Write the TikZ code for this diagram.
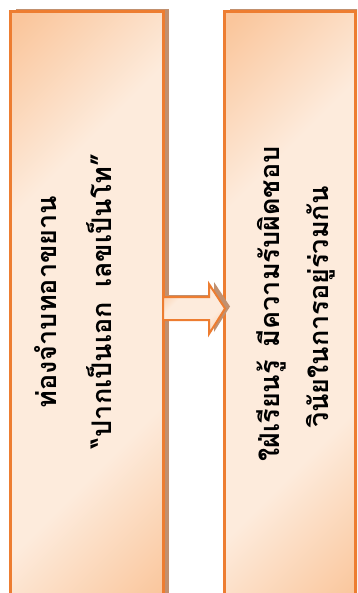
\documentclass[tikz,border=0pt]{standalone}
\usepackage{fontspec}
\newfontfamily\thaifont[Script=Thai]{Loma}
\usetikzlibrary{calc,shadows}
\definecolor{boxorange}{RGB}{237,125,49}
\definecolor{peachdk}{RGB}{250,198,156}
\definecolor{peachlt}{RGB}{253,235,220}
\definecolor{shadowbrown}{RGB}{193,144,111}
\pgfdeclareverticalshading{boxgrad}{100bp}{color(0bp)=(peachdk); color(16bp)=(peachdk); color(34bp)=(peachlt); color(66bp)=(peachlt); color(84bp)=(peachdk); color(100bp)=(peachdk)}
\begin{document}
\begin{tikzpicture}[x=1pt,y=-1pt,
  panel/.style={draw=boxorange, line width=3pt, shading=boxgrad, shading angle=45,
    rectangle, inner sep=0pt, minimum height=598.5pt,
    drop shadow={shadow xshift=5.5pt, shadow yshift=2pt, fill=shadowbrown, opacity=1}},
  arrowbody/.style={draw=boxorange, line width=2pt, line join=miter, shading=boxgrad, shading angle=45,
    drop shadow={shadow xshift=5pt, shadow yshift=2pt, fill=shadowbrown, opacity=1}},
  thaitext/.style={font=\thaifont\bfseries\fontsize{27}{31}\selectfont, rotate=90, inner sep=0pt, text=black, anchor=base}]
\useasboundingbox (0,0) rectangle (357,593);
\clip (0,0) rectangle (357,593);
\node[panel, minimum width=153pt] (left) at (87,310.75) {};
\node[panel, minimum width=131pt] (right) at (290,310.75) {};
\path (left.east) ++(-2,-2.25) coordinate (tail);
\path (right.west) ++(2,-2.25) coordinate (tip);
\draw[arrowbody] ($(tail)+(0,-11.5)$) -- ($(tip)+(-16,-11.5)$) -- ($(tip)+(-16,-24.5)$) -- (tip)
  -- ($(tip)+(-16,25.5)$) -- ($(tip)+(-16,11.5)$) -- ($(tail)+(0,11.5)$) -- cycle;
\node[thaitext] (l1) at (56,302) {ท่องจำบทอาขยาน};
\node[thaitext] (l2) at (111,301) {“ปากเป็นเอก\hspace{14pt}เลขเป็นโท”};
\node[thaitext] (r1) at (279,304) {ใฝ่เรียนรู้\hspace{13pt}มีความรับผิดชอบ};
\node[thaitext] (r2) at (328,307) {วินัยในการอยู่ร่วมกัน};
\end{tikzpicture}
\end{document}
